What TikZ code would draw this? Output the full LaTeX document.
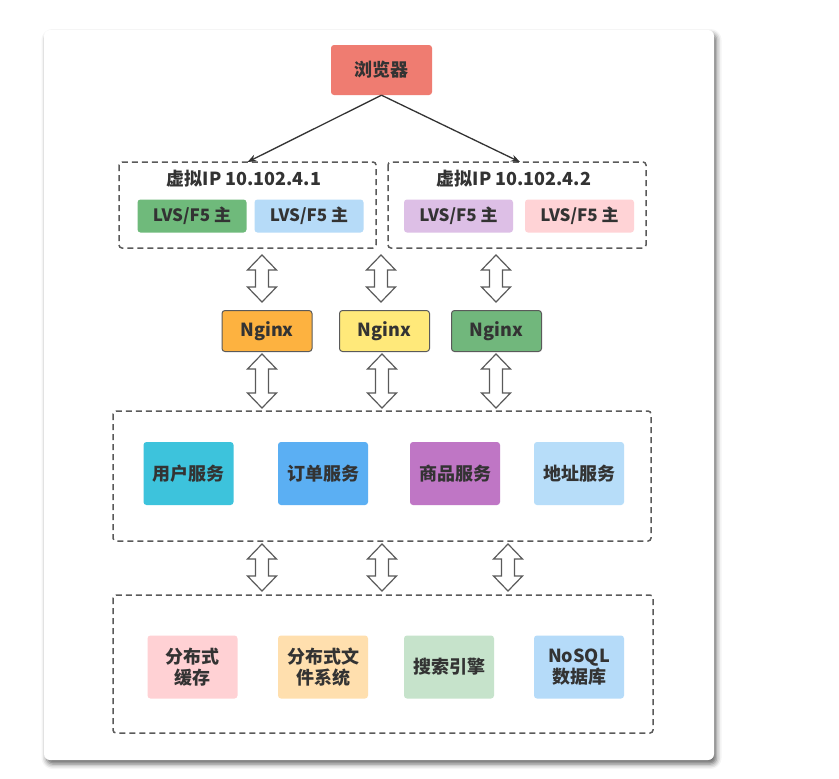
\documentclass[tikz,border=0pt]{standalone}
\usepackage{fontspec}
\newfontfamily\cjk{Noto Sans CJK SC}
\usetikzlibrary{calc,shadows.blur,arrows.meta}
\definecolor{txt}{HTML}{333333}
\definecolor{dash}{HTML}{5A5A5A}
\definecolor{cbrowser}{HTML}{EF7C71}
\definecolor{clvsa}{HTML}{6FBA7B}
\definecolor{clvsb}{HTML}{B6DBF8}
\definecolor{clvsc}{HTML}{DDBFE6}
\definecolor{clvsd}{HTML}{FFD3D6}
\definecolor{cngxa}{HTML}{FDB240}
\definecolor{cngxb}{HTML}{FFE97A}
\definecolor{cngxc}{HTML}{71B77C}
\definecolor{csva}{HTML}{3DC3DC}
\definecolor{csvb}{HTML}{5BAFF3}
\definecolor{csvc}{HTML}{BF76C5}
\definecolor{csvd}{HTML}{B7DDF9}
\definecolor{csta}{HTML}{FFD1D4}
\definecolor{cstb}{HTML}{FFDFAE}
\definecolor{cstc}{HTML}{C6E3CB}
\definecolor{cstd}{HTML}{B5DBF9}
\tikzset{
  box/.style={rounded corners=3pt, inner sep=0pt, text=txt, align=center,
    font=\cjk\bfseries\fontsize{18}{21}\selectfont},
  lvsbox/.style={box, minimum width=109pt, minimum height=33pt,
    font=\cjk\bfseries\fontsize{17}{20}\selectfont},
  ngxbox/.style={box, draw=dash, line width=1pt, minimum width=90pt, minimum height=41pt},
  svbox/.style={box, minimum width=90pt, minimum height=63pt},
  group/.style={draw=dash, line width=1.5pt, dash pattern=on 6pt off 4pt, rounded corners=3pt},
  darr/.style={draw=dash, line width=1.2pt, fill=white, line join=miter},
  link/.style={draw=txt, line width=1.3pt, -{Stealth[length=9pt,width=7pt]}}
}
\newcommand\dblarrow[2]{%
  \draw[darr] let \p1=(#1), \p2=(#2) in
    (\x1,\y1) -- (\x1+14.5pt,\y1-15pt) -- (\x1+6.5pt,\y1-15pt) -- (\x1+6.5pt,\y2+15pt)
    -- (\x1+14.5pt,\y2+15pt) -- (\x1,\y2) -- (\x1-14.5pt,\y2+15pt) -- (\x1-6.5pt,\y2+15pt)
    -- (\x1-6.5pt,\y1-15pt) -- (\x1-14.5pt,\y1-15pt) -- cycle;}
\begin{document}
\begin{tikzpicture}[x=1pt,y=-1pt]
\useasboundingbox (0,0) rectangle (839,779);
% card
\fill[white, rounded corners=6pt, blur shadow={shadow xshift=2.5pt, shadow yshift=-4pt, shadow blur radius=5pt, shadow opacity=60}] (44,30) rectangle (714,760);

% browser
\node[box, fill=cbrowser, minimum width=101pt, minimum height=50pt] (browser) at (381.5,70) {浏览器};

% virtual IP groups
\draw[group] (119,162) rectangle (376,248);
\draw[group] (388,162) rectangle (646,248);
\coordinate (vip1) at (247.5,162);
\coordinate (vip2) at (520,162);
\node[font=\cjk\bfseries\fontsize{18}{21}\selectfont, text=txt] (t1) at (244,179) {虚拟IP 10.102.4.1};
\node[font=\cjk\bfseries\fontsize{18}{21}\selectfont, text=txt] (t2) at (514,179) {虚拟IP 10.102.4.2};
\node[lvsbox, fill=clvsa] (l1) at (192,216) {LVS/F5 主};
\node[lvsbox, fill=clvsb] (l2) at (309,216) {LVS/F5 主};
\node[lvsbox, fill=clvsc] (l3) at (458.5,216) {LVS/F5 主};
\node[lvsbox, fill=clvsd] (l4) at (579.5,216) {LVS/F5 主};

\draw[link] (browser.south) -- (vip1);
\draw[link] (browser.south) -- (vip2);

% nginx
\node[ngxbox, fill=cngxa] (n1) at (267,331) {Nginx};
\node[ngxbox, fill=cngxb] (n2) at (384.5,331) {Nginx};
\node[ngxbox, fill=cngxc] (n3) at (496.5,331) {Nginx};

% services
\draw[group] (113,411) rectangle (651,541);
\node[svbox, fill=csva] (s1) at (188.5,473.5) {用户服务};
\node[svbox, fill=csvb] (s2) at (323,473.5) {订单服务};
\node[svbox, fill=csvc] (s3) at (455,473.5) {商品服务};
\node[svbox, fill=csvd] (s4) at (579,473.5) {地址服务};

% storage
\draw[group] (113,595) rectangle (653,733);
\node[svbox, fill=csta] (d1) at (192.5,667) {分布式\\缓存};
\node[svbox, fill=cstb] (d2) at (323,667) {分布式文\\件系统};
\node[svbox, fill=cstc] (d3) at (449,667) {搜索引擎};
\node[svbox, fill=cstd] (d4) at (579,667) {NoSQL\\数据库};

% double arrows
\coordinate (a1t) at (262,255); \coordinate (a1b) at (262,302);
\coordinate (a2t) at (381,255); \coordinate (a2b) at (381,302);
\coordinate (a3t) at (496,255); \coordinate (a3b) at (496,302);
\coordinate (b1t) at (262,354); \coordinate (b1b) at (262,408);
\coordinate (b2t) at (382,354); \coordinate (b2b) at (382,408);
\coordinate (b3t) at (496,354); \coordinate (b3b) at (496,408);
\coordinate (c1t) at (262,544); \coordinate (c1b) at (262,591);
\coordinate (c2t) at (382,544); \coordinate (c2b) at (382,591);
\coordinate (c3t) at (508,544); \coordinate (c3b) at (508,591);
\dblarrow{a1t}{a1b}\dblarrow{a2t}{a2b}\dblarrow{a3t}{a3b}
\dblarrow{b1t}{b1b}\dblarrow{b2t}{b2b}\dblarrow{b3t}{b3b}
\dblarrow{c1t}{c1b}\dblarrow{c2t}{c2b}\dblarrow{c3t}{c3b}
\end{tikzpicture}
\end{document}
